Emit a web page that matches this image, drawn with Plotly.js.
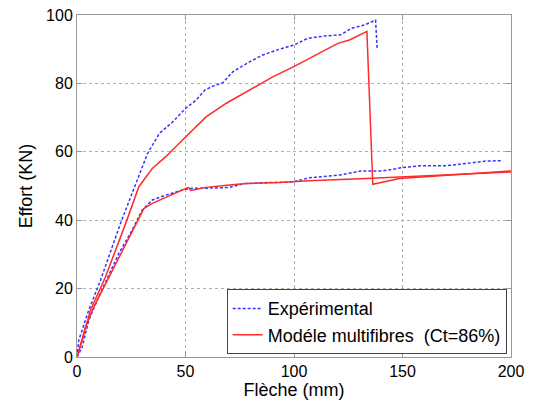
<!DOCTYPE html>
<html>
<head>
<meta charset="utf-8">
<script src="https://cdn.plot.ly/plotly-3.0.1.min.js"></script>
<style>html,body{margin:0;padding:0;background:#fff;}#chart{width:537px;height:401px;}</style>
</head>
<body>
<div id="chart"></div>
<script>
// Experimental curve: upper branch, then (after null) lower branch
var expX = [0, 0.8, 5.4, 10.8, 20, 32.5, 38, 44.2, 50, 54.9, 58.8, 62.6, 67.2, 71.8, 79.5, 85.6, 93.3, 99.9, 106.4, 114.8, 121.5, 126.4, 132.5, 137.6, 138.3,
            null,
            0, 2.4, 5.4, 10, 19.3, 25.4, 30, 34.7, 40.8, 48.5, 52.3, 56.5, 63, 70.3, 77.2, 88, 99.5, 107.1, 121, 131, 140.9, 150.1, 157.8, 170.1, 179.4, 188.6, 196.2];
var expY = [0, 4.9, 13.7, 22.4, 39, 59.5, 65.4, 68.8, 72.7, 75.1, 78, 79.2, 80.2, 83.4, 86.3, 88.3, 90, 91.2, 93.2, 93.9, 94.2, 96.1, 97.1, 98.5, 90.3,
            null,
            0, 2.9, 10.7, 17.6, 30.3, 37.1, 42.9, 45.9, 47.3, 48.8, 49.3, 49.3, 49.4, 49.6, 50.7, 51, 51.2, 52.4, 53.2, 54.4, 54.4, 55.4, 55.9, 55.9, 56.6, 57.3, 57.4];

// Model curve: upper branch with failure drop, then (after null) lower branch
var modX = [0, 2.4, 6.2, 13.1, 22.4, 28.5, 34.7, 40.8, 48.5, 59.5, 68.8, 79.5, 90.2, 99.9, 110.2, 120.2, 125.6, 133.6, 136.3, 148.6, 200,
            null,
            0, 3.9, 7.7, 13.9, 20.8, 27, 30.8, 34.7, 40.8, 47.2, 51.3, 52.5, 59.5, 70.3, 78, 93.3, 107.1, 133.3, 148.6, 179.4, 200];
var modY = [0, 4.9, 13.7, 23.4, 39, 49.8, 55.1, 58.5, 63.4, 70.2, 74.2, 78.1, 81.9, 84.9, 88.3, 91.7, 92.7, 95.2, 50.5, 52.2, 54.4,
            null,
            0, 8.8, 14.6, 22.4, 31.2, 39, 43.4, 44.9, 46.6, 48.6, 49.6, 48.7, 49.6, 50.3, 50.7, 51, 51.5, 52.2, 52.7, 53.5, 54.1];

var xTicks = [0, 50, 100, 150, 200];
var yTicks = [0, 20, 40, 60, 80, 100];

var traces = [
  {x: expX, y: expY, type: 'scatter', mode: 'lines', name: 'Expérimental',
   connectgaps: false, line: {color: '#3535ff', width: 1.5, dash: '3px,2px'}},
  {x: modX, y: modY, type: 'scatter', mode: 'lines', name: 'Modéle multifibres\u00a0\u00a0(Ct=86%)',
   connectgaps: false, line: {color: '#ff2a2a', width: 1.5}}
];

var FONT = 'Liberation Sans, Arial, sans-serif';

var axisCommon = {
  showline: true, mirror: 'ticks', linecolor: '#999', linewidth: 1,
  ticks: 'inside', ticklen: 5, tickcolor: '#999',
  showgrid: true, gridcolor: '#b0b0b0', griddash: 'dot', gridwidth: 1,
  zeroline: false, tickfont: {family: FONT, size: 16, color: '#000'}
};

var layout = {
  width: 537, height: 401,
  margin: {l: 77, r: 26, t: 15, b: 44},
  paper_bgcolor: '#fff', plot_bgcolor: '#fff',
  showlegend: true,
  xaxis: Object.assign({}, axisCommon, {
    range: [0, 200], tickvals: xTicks, ticktext: xTicks.map(String),
    title: {text: 'Flèche (mm)', font: {family: FONT, size: 18, color: '#000'}, standoff: 2}
  }),
  yaxis: Object.assign({}, axisCommon, {
    range: [0, 100], tickvals: yTicks, ticktext: yTicks.map(String),
    title: {text: 'Effort (KN)', font: {family: FONT, size: 18, color: '#000'}, standoff: 8}
  }),
  legend: {
    x: 0.99, xanchor: 'right', y: 0.008, yanchor: 'bottom',
    bgcolor: '#fff', bordercolor: '#444', borderwidth: 1,
    font: {family: FONT, size: 18, color: '#000'},
    tracegroupgap: 0, itemwidth: 30
  }
};

Plotly.newPlot('chart', traces, layout, {staticPlot: true, displayModeBar: false});
</script>
</body>
</html>
